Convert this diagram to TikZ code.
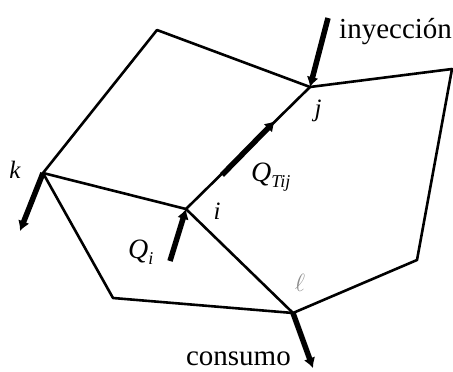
\documentclass[tikz,border=0pt]{standalone}
\usepackage{fontspec}
\setmainfont{Liberation Serif}
\usetikzlibrary{arrows.meta}
\begin{document}
\begin{tikzpicture}[x=1pt,y=-1pt,
  edge/.style={line width=2.6pt,line join=round,line cap=round},
  flow/.style={line width=5.5pt,-{Latex[length=10pt,width=12pt]}},
  lab/.style={inner sep=0pt,font=\fontsize{25}{27}\selectfont\itshape},
  word/.style={inner sep=0pt,font=\fontsize{29}{31}\selectfont}]
\useasboundingbox (0,0) rectangle (453,372);
\coordinate (a) at (157,30);
\coordinate (j) at (310,87);
\coordinate (r1) at (452,69);
\coordinate (r2) at (417,260);
\coordinate (l) at (293,313);
\coordinate (b) at (113,298);
\coordinate (k) at (43,173);
\coordinate (i) at (186,209);
\draw[edge] (a) -- (j) -- (r1) -- (r2) -- (l) -- (b) -- (k) -- (a);
\draw[edge] (k) -- (i) -- (j);
\draw[edge] (i) -- (l);
% flows
\coordinate (inj) at (328,18);
\coordinate (kout) at (20,231);
\coordinate (qin) at (170,261);
\coordinate (qt1) at (222,175);
\coordinate (qt2) at (275,121);
\coordinate (cons) at (313,368);
\draw[flow] (inj) -- (j);
\draw[flow] (k) -- (kout);
\draw[flow] (qin) -- (i);
\draw[flow] (qt1) -- (qt2);
\draw[flow] (l) -- (cons);
% labels
\node[word,anchor=base west] (tinj) at (339,38) {inyección};
\node[word,anchor=base east] (tcons) at (291,365) {consumo};
\node[lab] (tk) at (15,170) {k};
\node[lab] (tj) at (318,111) {j};
\node[lab] (ti) at (217,211) {i};
\node[lab,text=black!45] (tl) at (300,283) {$\ell$};
\node[lab,anchor=base west,font=\fontsize{28}{30}\selectfont\itshape] (tqt) at (251,181) {Q\raisebox{-0.22em}{\fontsize{18}{19}\selectfont\itshape Tij}};
\node[lab,anchor=base west,font=\fontsize{28}{30}\selectfont\itshape] (tqi) at (128,258) {Q\raisebox{-0.22em}{\fontsize{18}{19}\selectfont\itshape i}};
\end{tikzpicture}
\end{document}
